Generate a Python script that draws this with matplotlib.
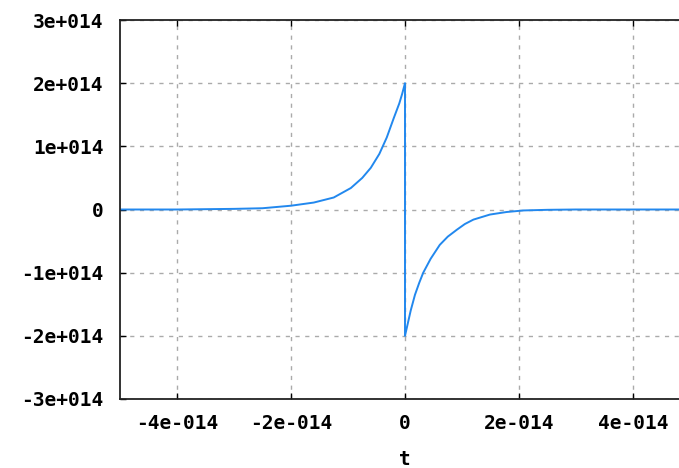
import matplotlib.pyplot as plt

# values (t in units of 1e-14, y in units of 1e14)
t_left = [-5.0, -4.0, -3.0, -2.5, -2.0, -1.6, -1.25, -0.95, -0.75, -0.6, -0.45, -0.32, -0.2, -0.1, -0.05, 0.0]
y_left = [0.0, 0.0, 0.01, 0.02, 0.06, 0.11, 0.19, 0.34, 0.50, 0.66, 0.88, 1.14, 1.44, 1.68, 1.83, 2.0]
t_right = [0.0, 0.05, 0.1, 0.175, 0.25, 0.32, 0.45, 0.61, 0.75, 0.91, 1.05, 1.2, 1.49, 1.78, 2.08, 2.5, 3.0, 4.0, 5.0]
y_right = [-2.0, -1.8, -1.6, -1.35, -1.16, -1.0, -0.78, -0.56, -0.43, -0.32, -0.23, -0.16, -0.08, -0.04, -0.015, -0.005, 0.0, 0.0, 0.0]

x_ticks = [-4, -2, 0, 2, 4]
x_labels = ['-4e-014', '-2e-014', '0', '2e-014', '4e-014']
y_ticks = [3, 2, 1, 0, -1, -2, -3]
y_labels = ['3e+014', '2e+014', '1e+014', '0', '-1e+014', '-2e+014', '-3e+014']

t = t_left + t_right
y = y_left + y_right

fig = plt.figure(figsize=(6.79, 4.68), dpi=100)
ax = fig.add_axes([120 / 679, 69 / 468, 570 / 679, 379 / 468])
ax.plot(t, y, color='#2288ee', lw=1.4)

ax.set_xlim(-5, 5)
ax.set_ylim(-3, 3)
ax.set_xticks(x_ticks)
ax.set_xticklabels(x_labels)
ax.set_yticks(y_ticks)
ax.set_yticklabels(y_labels)

font = dict(family='DejaVu Sans Mono', weight='bold', size=14)
for lab in ax.get_xticklabels() + ax.get_yticklabels():
    lab.set_fontproperties(font)
ax.tick_params(direction='in', length=4, width=1, top=True, right=False)
ax.tick_params(axis='x', pad=11)
ax.tick_params(axis='y', pad=12)
ax.set_xlabel('t', fontdict=font, labelpad=12)

ax.grid(True, color='#aaaaaa', linestyle=(0, (3, 4)), linewidth=1)
ax.set_axisbelow(True)
for s in ['left', 'top', 'bottom']:
    ax.spines[s].set_linewidth(1.3)
    ax.spines[s].set_color('#222222')
ax.spines['right'].set_visible(False)

fig.savefig('out.png', dpi=100)
